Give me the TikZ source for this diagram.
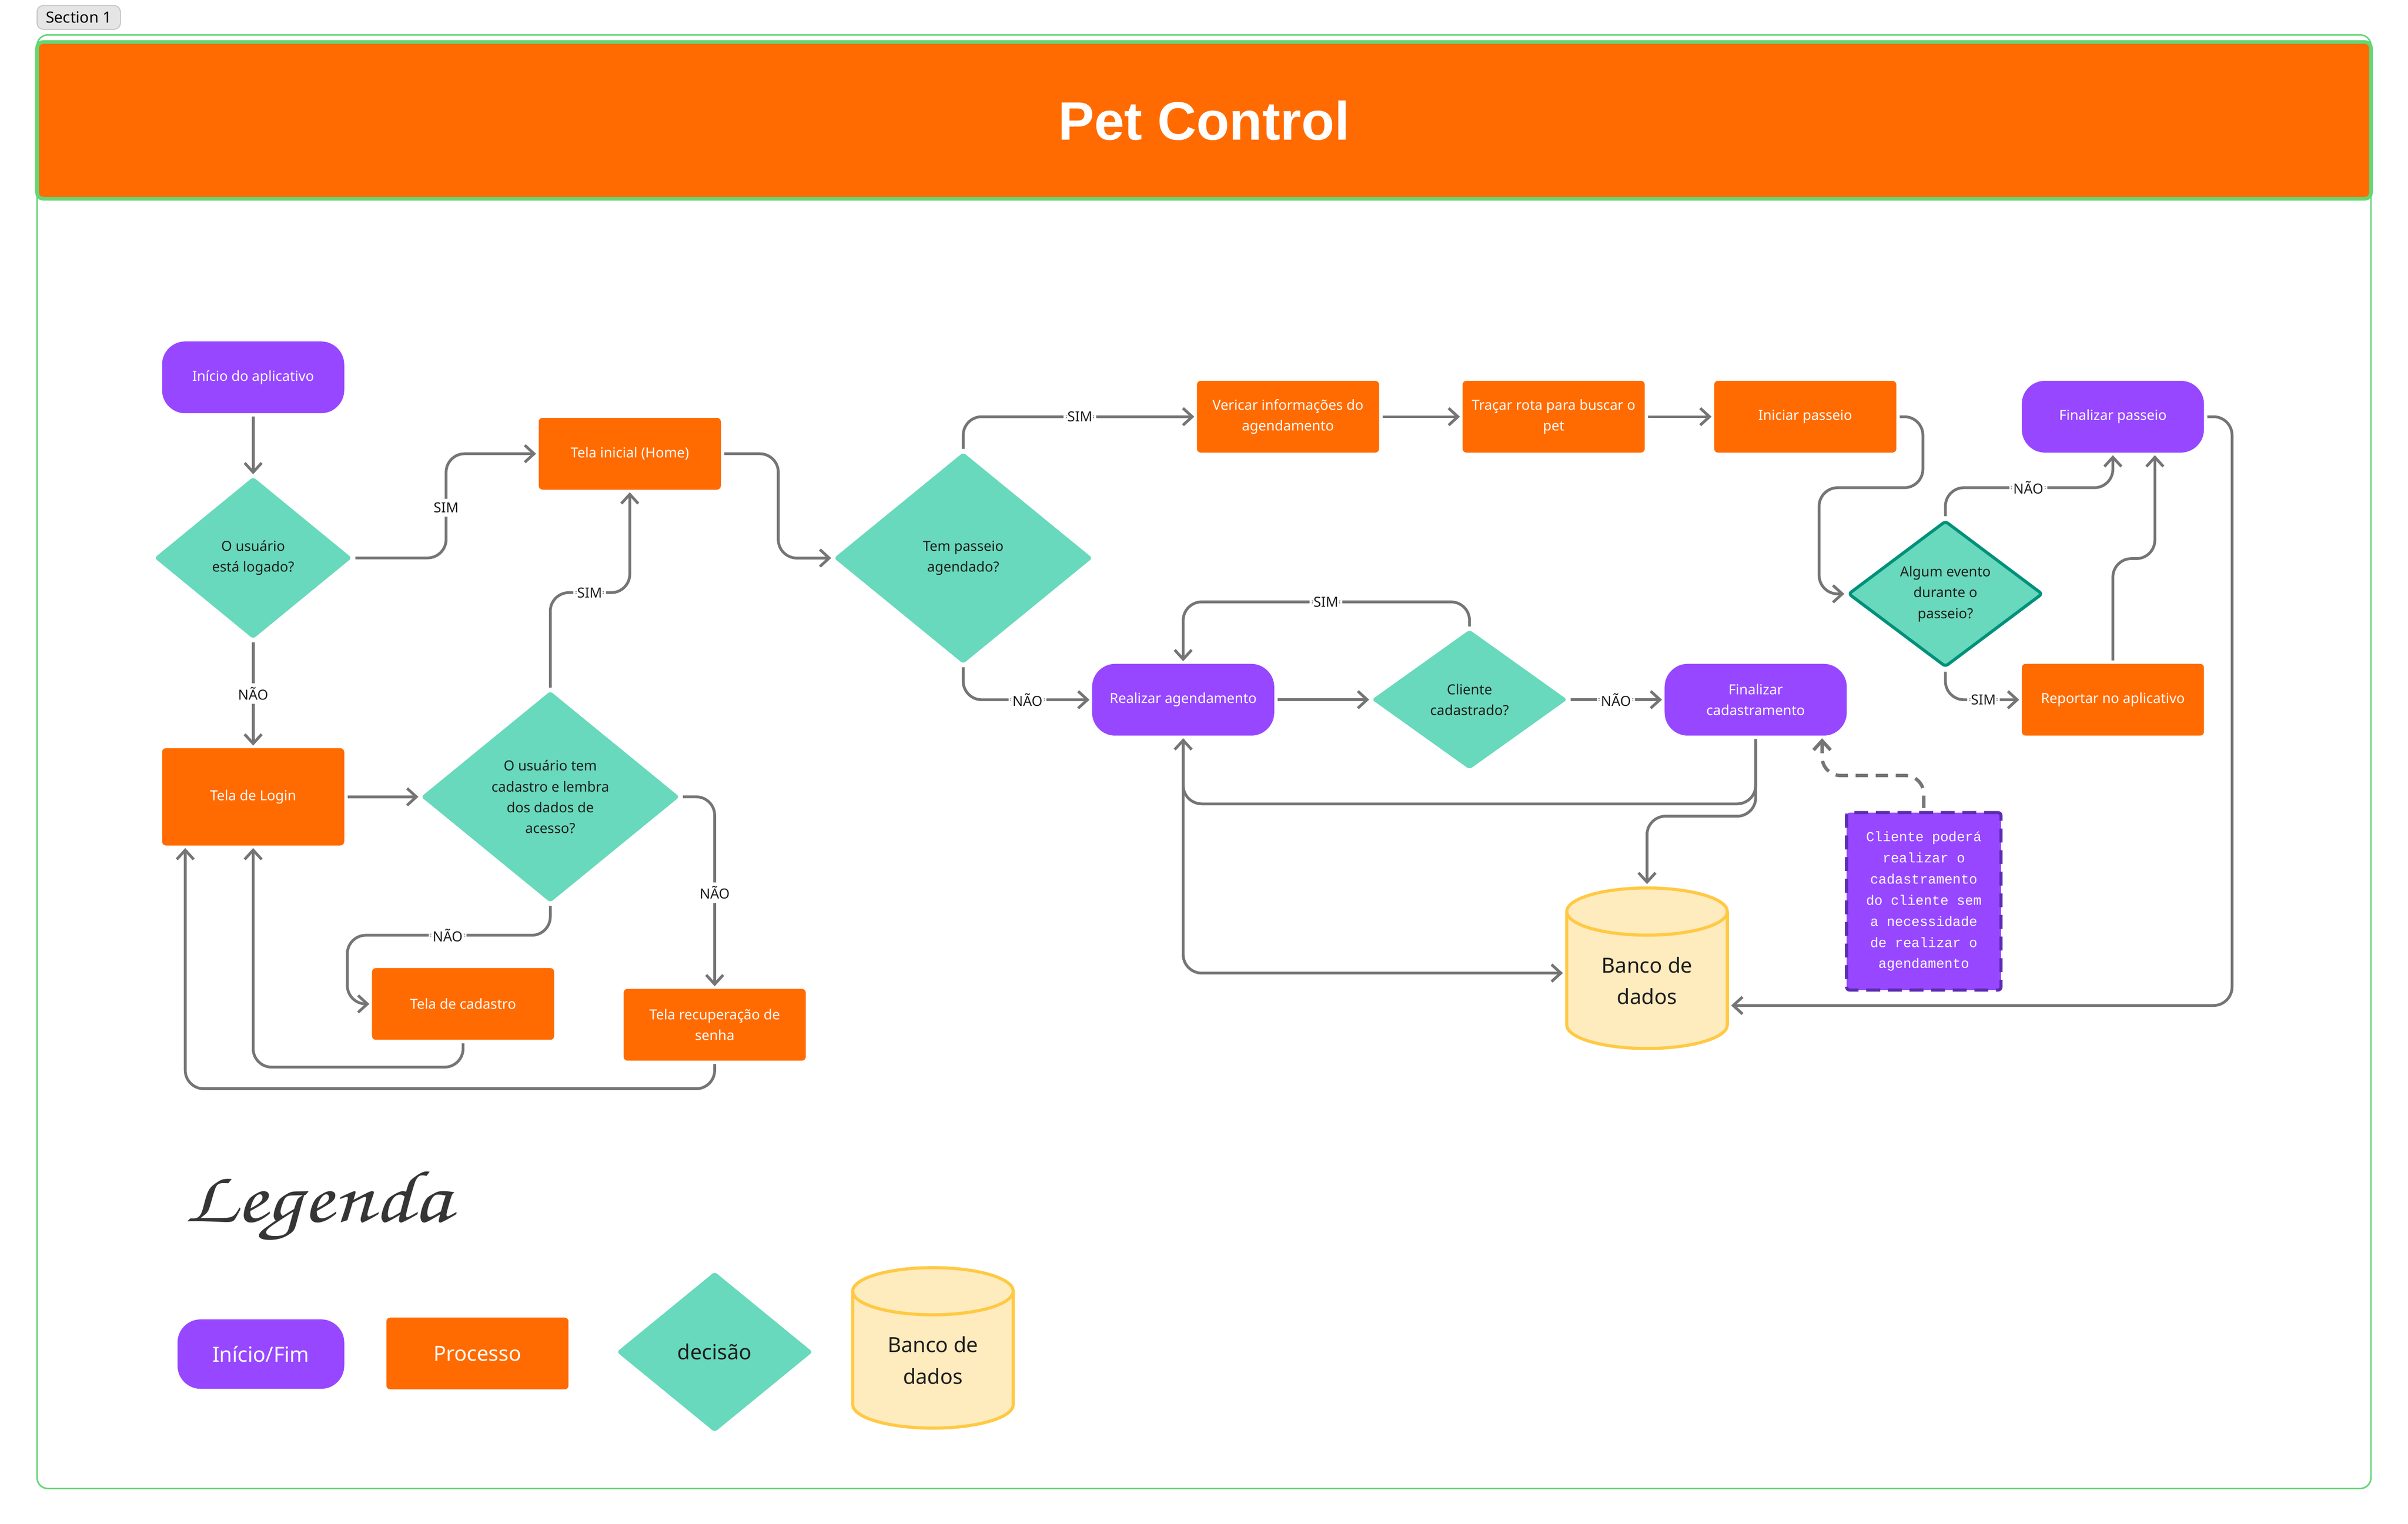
\documentclass[tikz,border=0pt]{standalone}
\usepackage[T1]{fontenc}
\usepackage{fontspec}
\usepackage{graphicx}
\setmainfont{Noto Sans}
\setmonofont{Liberation Mono}
\newfontfamily\fontetitulo{Liberation Sans}
\usepackage{tikz}
\usetikzlibrary{shapes.geometric,arrows.meta}

\definecolor{roxo}{HTML}{9747FF}
\definecolor{roxoesc}{HTML}{5B2BB0}
\definecolor{laranja}{HTML}{FF6B00}
\definecolor{verdeagua}{HTML}{68D9BC}
\definecolor{verdeesc}{HTML}{00917B}
\definecolor{verde}{HTML}{66D575}
\definecolor{amarelo}{HTML}{FFC943}
\definecolor{amareloclaro}{HTML}{FEEBBE}
\definecolor{cinza}{HTML}{757575}
\definecolor{escuro}{HTML}{1E1E1E}

\newcommand{\txtpeq}{\fontsize{9}{13.5}\selectfont}
\newcommand{\txtleg}{\fontsize{13.5}{20.5}\selectfont}

\tikzset{
  base/.style={align=center, font=\txtpeq, inner sep=2pt, minimum width=118pt, minimum height=46.5pt},
  processo/.style={base, rectangle, rounded corners=2.5pt, fill=laranja, text=white},
  terminal/.style={base, rectangle, rounded corners=15pt, fill=roxo, text=white},
  decisao/.style={diamond, align=center, font=\txtpeq, inner sep=0pt, rounded corners=2pt, fill=verdeagua, text=escuro},
  banco/.style={cylinder, shape border rotate=90, aspect=0.52, minimum width=104pt, minimum height=104pt, fill=amareloclaro, draw=amarelo, line width=2pt, text=escuro, font=\txtleg, align=center, inner sep=0pt},
  nota/.style={rectangle, rounded corners=2pt, fill=roxo, draw=roxoesc, line width=2pt, dash pattern=on 9pt off 5pt, minimum width=100pt, minimum height=115pt, text=white, font={\ttfamily\fontsize{8.9}{13.7}\selectfont}, align=center, inner sep=0pt},
  seta/.style={draw=cinza, line width=1.8pt, rounded corners=12pt, -{Straight Barb[length=6pt,width=11pt]}, shorten <=2pt, shorten >=1.5pt},
  tracejada/.style={seta, line width=2.2pt, dash pattern=on 8pt off 5pt},
  rotulo/.style={fill=white, text=escuro, font=\txtpeq, inner sep=2.5pt},
}

\begin{document}
\begin{tikzpicture}[x=1pt, y=-1pt]
  \useasboundingbox (0,0) rectangle (1560,987.2);

  \node[rectangle, rounded corners=4pt, fill=black!10, draw=black!23, line width=0.6pt, minimum width=54pt, minimum height=15.4pt, inner sep=0pt, font=\fontsize{10}{12}\selectfont] (secao) at (51,11.3) {Section 1};
  \draw[verde, line width=1pt, rounded corners=7pt] (24,22.6) rectangle (1536,964.5);
  \node[rectangle, rounded corners=4pt, fill=laranja, draw=verde, line width=2.4pt, minimum width=1512pt, minimum height=101.6pt, text=white, font={\fontetitulo\bfseries\fontsize{35}{40}\selectfont}] (titulo) at (780,78) {Pet Control};

  \node[terminal] (inicio) at (164,244.5) {Início do aplicativo};
  \node[decisao, minimum width=128pt, minimum height=105pt] (logado) at (164,361.5) {O usuário\\está logado?};
  \node[processo, minimum height=63pt] (login) at (164,516.3) {Tela de Login};
  \node[processo] (home) at (408,294) {Tela inicial (Home)};
  \node[decisao, minimum width=167.5pt, minimum height=137pt] (temcad) at (356.5,516.3) {O usuário tem\\cadastro e lembra\\dos dados de\\acesso?};
  \node[processo] (cadastro) at (300,650.5) {Tela de cadastro};
  \node[processo] (recup) at (463,664) {Tela recuperação de\\senha};
  \node[decisao, minimum width=167.6pt, minimum height=137pt] (agendado) at (624,361.6) {Tem passeio\\agendado?};
  \node[processo] (verif) at (834.4,270) {Vericar informações do\\agendamento};
  \node[processo] (rota) at (1006.5,270) {Traçar rota para buscar o\\pet};
  \node[processo] (iniciar) at (1169.5,270) {Iniciar passeio};
  \node[terminal] (fimpasseio) at (1368.8,270) {Finalizar passeio};
  \node[decisao, draw=verdeesc, line width=2pt, minimum width=126pt, minimum height=90.5pt] (evento) at (1260.3,384.8) {Algum evento\\durante o\\passeio?};
  \node[processo] (reportar) at (1368.8,453.4) {Reportar no aplicativo};
  \node[terminal] (realizar) at (766.5,453.4) {Realizar agendamento};
  \node[decisao, minimum width=126.7pt, minimum height=90.5pt] (cliente) at (952,453.3) {Cliente\\cadastrado?};
  \node[terminal] (fimcad) at (1137.4,453.4) {Finalizar\\cadastramento};
  \node[banco] (bd) at (1067,635.5) {Banco de\\dados};
  \node[nota] (obs) at (1246.3,584) {Cliente poderá\\realizar o\\cadastramento\\do cliente sem\\a necessidade\\de realizar o\\agendamento};

  \draw[seta] (inicio) -- (logado);
  \draw[seta] (logado.east) -| (289,329) node[rotulo] {SIM} |- (home.west);
  \draw[seta] (logado) -- node[rotulo] {NÃO} (login);
  \draw[seta] (login.east) -- (temcad.west);
  \draw[seta] (temcad.north) |- (382,384) node[rotulo] {SIM} -| (home.south);
  \draw[seta] (temcad.south) |- (290,606) node[rotulo] {NÃO} -| (225,628) |- (cadastro.west);
  \draw[seta] (temcad.east) -| node[rotulo, pos=0.75] {NÃO} (recup.north);
  \draw[seta] (cadastro.south) -- ++(0,17.5) -| (login.south);
  \draw[seta] (recup.south) -- ++(0,18) -| ([xshift=-44pt]login.south);
  \draw[seta] (home.east) -- ++(37,0) |- (agendado.west);
  \draw[seta] (agendado.north) |- node[rotulo, pos=0.75] {SIM} (verif.west);
  \draw[seta] (verif) -- (rota);
  \draw[seta] (rota) -- (iniciar);
  \draw[seta] (iniciar.east) -- ++(17,0) |- (1178.5,316) |- (evento.west);
  \draw[seta] (evento.north) |- (1314,316) node[rotulo] {NÃO} -| (fimpasseio.south);
  \draw[seta] (evento.south) |- node[rotulo, pos=0.75] {SIM} (reportar.west);
  \draw[seta] (reportar.north) -- ++(0,-68) -| ([xshift=27.2pt]fimpasseio.south);
  \draw[seta] (fimpasseio.east) -- ++(18,0) |- ([yshift=-16pt]bd.east);
  \draw[seta] (agendado.south) |- node[rotulo, pos=0.75] {NÃO} (realizar.west);
  \draw[seta] (realizar) -- (cliente);
  \draw[seta] (cliente.north) |- (859,390) node[rotulo] {SIM} -| (realizar.north);
  \draw[seta] (cliente) -- node[rotulo] {NÃO} (fimcad);
  \draw[seta] (fimcad.south) -- ++(0,44) -| (realizar.south);
  \draw[seta] (fimcad.south) -- ++(0,52) -| (bd.north);
  \draw[seta] (realizar.south) |- ([yshift=5pt]bd.west);
  \draw[tracejada] (obs.north) -- ++(0,-23) -| ([xshift=43pt]fimcad.south);

  \node[anchor=west, text=escuro!90, font={\fontencoding{T1}\fontfamily{pzc}\fontseries{m}\fontshape{it}\fontsize{48}{50}\selectfont}] (legenda) at (116,782) {\scalebox{1.2}[1]{Legenda}};
  \node[terminal, font=\txtleg, minimum width=108pt, minimum height=45pt] (leg1) at (169,877.4) {Início/Fim};
  \node[processo, font=\txtleg] (leg2) at (309.3,877) {Processo};
  \node[decisao, font=\txtleg, minimum width=127pt, minimum height=104pt] (leg3) at (463,876) {decisão};
  \node[banco] (leg4) at (604.4,881.5) {Banco de\\dados};
\end{tikzpicture}
\end{document}
